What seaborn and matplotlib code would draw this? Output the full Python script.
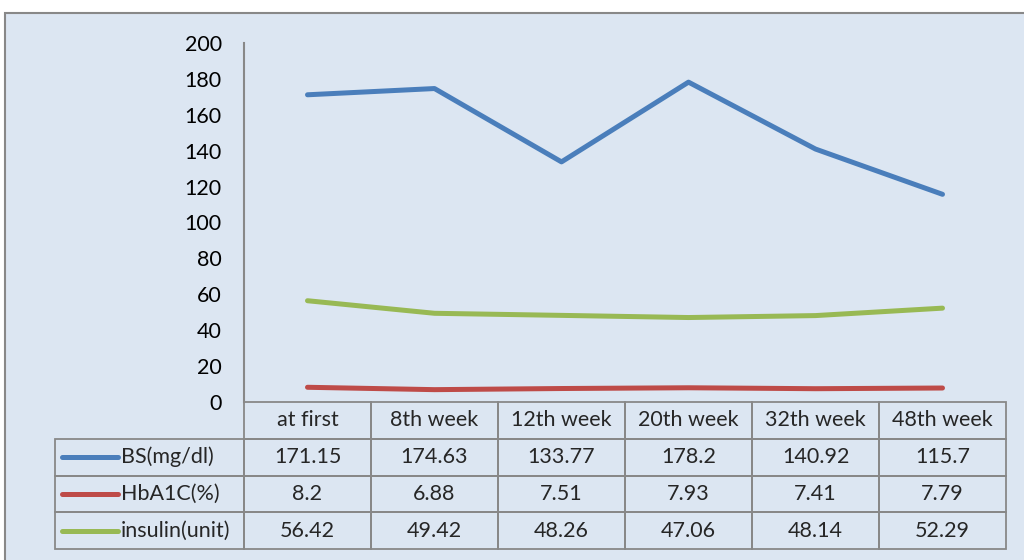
import pandas as pd
import matplotlib.pyplot as plt
import seaborn as sns
from matplotlib.patches import Rectangle
from matplotlib.lines import Line2D

weeks = ["at first", "8th week", "12th week", "20th week", "32th week", "48th week"]
series = ["BS(mg/dl)", "HbA1C(%)", "insulin(unit)"]
bs = [171.15, 174.63, 133.77, 178.2, 140.92, 115.7]
hba1c = [8.2, 6.88, 7.51, 7.93, 7.41, 7.79]
insulin = [56.42, 49.42, 48.26, 47.06, 48.14, 52.29]
yticks = list(range(0, 201, 20))

colors = ["#4A7EBB", "#BE4B48", "#98B954"]
grey = "#888888"
fs = 15.5

df = pd.DataFrame({
    "week": weeks * 3,
    "value": bs + hba1c + insulin,
    "series": [s for s in series for _ in weeks],
})

sns.set_style("white")
plt.rcParams["font.family"] = ["Lato", "DejaVu Sans"]

W, H = 1024, 560
fig = plt.figure(figsize=(W / 100, H / 100), dpi=100)
fig.patch.set_facecolor("white")

# light blue chart area with grey border (cut off at right / bottom)
fig.patches.append(Rectangle((5 / W, -0.05), 1.0, 1 - 13 / H + 0.05,
                             transform=fig.transFigure, facecolor="#DCE6F2",
                             edgecolor=grey, lw=1.5, zorder=-1))

# plot area
x0, x1, ytop, ybot = 244, 1006, 43, 402
aw, ah = x1 - x0, ybot - ytop
ax = fig.add_axes([x0 / W, 1 - ybot / H, aw / W, ah / H])
ax.patch.set_alpha(0)

sns.lineplot(data=df, x="week", y="value", hue="series", palette=colors,
             lw=3.6, legend=False, sort=False, ax=ax, solid_capstyle="round")

ax.set_xlim(-0.5, len(weeks) - 0.5)
ax.set_ylim(0, 200)
ax.set_yticks(yticks)
ax.set_xticks([])
ax.set_xlabel("")
ax.set_ylabel("")
ax.tick_params(axis="y", length=0, pad=16, labelsize=fs, labelcolor="black")
for s in ["top", "right", "bottom"]:
    ax.spines[s].set_visible(False)
ax.spines["left"].set_color(grey)
ax.spines["left"].set_linewidth(1.5)

# data table under the plot: first column holds the series names
tleft, tbottom = 55, 549
lab_w = x0 - tleft
cell_text = [[name] + [str(v) for v in vals]
             for name, vals in zip(series, [bs, hba1c, insulin])]
tw = x1 - tleft
tbl = ax.table(cellText=cell_text, colLabels=[""] + weeks,
               colWidths=[lab_w / tw] + [aw / len(weeks) / tw] * len(weeks),
               cellLoc="center",
               bbox=[(tleft - x0) / aw, -(tbottom - ybot) / ah,
                     tw / aw, (tbottom - ybot) / ah])
tbl.auto_set_font_size(False)
tbl.set_fontsize(fs)
for (r, c), cell in tbl.get_celld().items():
    cell.set_facecolor("none")
    cell.set_edgecolor(grey)
    cell.set_linewidth(1.3)
    if r == 0 and c == 0:
        cell.visible_edges = ""
    elif c == 0:
        cell.get_text().set_horizontalalignment("left")
        cell.PAD = 66 / lab_w

# legend keys inside the series name cells
row_h = (tbottom - ybot) / 4
for i, col in enumerate(colors):
    yc = ybot + row_h * (i + 1.5)
    ya = -(yc - ybot) / ah
    ax.add_line(Line2D([(62 - x0) / aw, (118 - x0) / aw], [ya, ya],
                       transform=ax.transAxes, color=col, lw=3.6,
                       solid_capstyle="round", clip_on=False))

fig.savefig("out.png", dpi=100)
